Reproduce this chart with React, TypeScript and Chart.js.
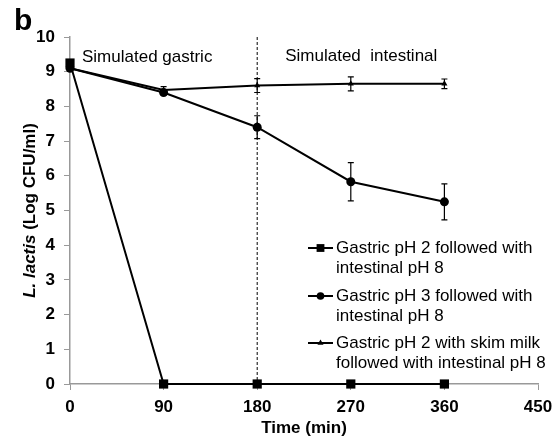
import React, { useEffect, useRef } from "react";
import { Chart, registerables } from "chart.js";
Chart.register(...registerables);

const times = [0, 90, 180, 270, 360];
const ph2Values = [9.25, 0, 0, 0, 0];
const ph2Errors = [0, 0, 0, 0, 0];
const ph3Values = [9.1, 8.4, 7.4, 5.83, 5.25];
const ph3Errors = [0, 0.05, 0.33, 0.55, 0.52];
const milkValues = [9.1, 8.47, 8.6, 8.65, 8.65];
const milkErrors = [0, 0.1, 0.2, 0.2, 0.14];
const legendLabels = [
  ["Gastric pH 2 followed with", "intestinal pH 8"],
  ["Gastric pH 3 followed with", "intestinal pH 8"],
  ["Gastric pH 2 with skim milk", "followed with intestinal pH 8"],
];
const phaseBoundary = 180;
const phaseLabels = ["Simulated gastric", "Simulated  intestinal"];
const panelLetter = "b";
const xTitle = "Time (min)";
const yTitleItalic = "L. lactis";
const yTitleRest = " (Log CFU/ml)";

const FONT = "'Liberation Sans', Arial, sans-serif";
const valueSets = [ph2Values, ph3Values, milkValues];
const errorSets = [ph2Errors, ph3Errors, milkErrors];

const overlayPlugin = {
  id: "overlay",
  beforeDatasetsDraw(chart: any) {
    const { ctx, scales } = chart;
    const x = scales.x.getPixelForValue(phaseBoundary);
    ctx.save();
    ctx.strokeStyle = "#000";
    ctx.lineWidth = 1;
    ctx.setLineDash([3, 2]);
    ctx.beginPath();
    ctx.moveTo(x, scales.y.getPixelForValue(10));
    ctx.lineTo(x, scales.y.getPixelForValue(0));
    ctx.stroke();
    ctx.restore();
  },
  afterDatasetsDraw(chart: any) {
    const { ctx, scales, chartArea } = chart;
    ctx.save();
    ctx.strokeStyle = "#000";
    ctx.lineWidth = 1.2;
    valueSets.forEach((vals, i) => {
      const errs = errorSets[i];
      vals.forEach((v, j) => {
        const e = errs[j];
        if (!e) return;
        const px = scales.x.getPixelForValue(times[j]);
        const top = scales.y.getPixelForValue(v + e);
        const bot = scales.y.getPixelForValue(v - e);
        ctx.beginPath();
        ctx.moveTo(px, top);
        ctx.lineTo(px, bot);
        ctx.moveTo(px - 3, top);
        ctx.lineTo(px + 3, top);
        ctx.moveTo(px - 3, bot);
        ctx.lineTo(px + 3, bot);
        ctx.stroke();
      });
    });
    ctx.restore();

    ctx.save();
    ctx.fillStyle = "#000";
    ctx.font = `bold 30px ${FONT}`;
    ctx.textBaseline = "alphabetic";
    ctx.textAlign = "left";
    ctx.fillText(panelLetter, 14, 30);

    ctx.font = `17px ${FONT}`;
    ctx.textBaseline = "middle";
    ctx.fillText(phaseLabels[0], chartArea.left + 12, 57);
    ctx.fillText(phaseLabels[1], scales.x.getPixelForValue(phaseBoundary) + 28, 56);

    ctx.save();
    const cy = (chartArea.top + chartArea.bottom) / 2;
    ctx.translate(30, cy);
    ctx.rotate(-Math.PI / 2);
    ctx.font = `italic bold 17px ${FONT}`;
    const w1 = ctx.measureText(yTitleItalic).width;
    ctx.font = `bold 17px ${FONT}`;
    const w2 = ctx.measureText(yTitleRest).width;
    const start = -(w1 + w2) / 2;
    ctx.textAlign = "left";
    ctx.font = `italic bold 17px ${FONT}`;
    ctx.fillText(yTitleItalic, start, 0);
    ctx.font = `bold 17px ${FONT}`;
    ctx.fillText(yTitleRest, start + w1, 0);
    ctx.restore();

    const legX = 308;
    const legTops = [248, 296, 343];
    chart.data.datasets.forEach((ds: any, i: number) => {
      const y = legTops[i];
      ctx.strokeStyle = "#000";
      ctx.lineWidth = 2;
      ctx.beginPath();
      ctx.moveTo(legX, y);
      ctx.lineTo(legX + 25, y);
      ctx.stroke();
      ctx.fillStyle = "#000";
      const r = ds.pointRadius;
      const cx = legX + 12.5;
      ctx.beginPath();
      if (ds.pointStyle === "rect") {
        const s = Math.SQRT1_2 * r * 0.85;
        ctx.rect(cx - s, y - s, 2 * s, 2 * s);
      } else if (ds.pointStyle === "triangle") {
        for (let k = 0; k < 3; k++) {
          const a = -Math.PI / 2 + (k * 2 * Math.PI) / 3;
          const px = cx + Math.cos(a) * r;
          const py = y + Math.sin(a) * r;
          if (k === 0) ctx.moveTo(px, py);
          else ctx.lineTo(px, py);
        }
        ctx.closePath();
      } else {
        ctx.arc(cx, y, r * 0.85, 0, Math.PI * 2);
      }
      ctx.fill();
      ctx.font = `17px ${FONT}`;
      ctx.textAlign = "left";
      ctx.textBaseline = "middle";
      legendLabels[i].forEach((line, k) => {
        ctx.fillText(line, legX + 28, y + k * 20);
      });
    });
    ctx.restore();
  },
};

export default function App() {
  const canvasRef = useRef<HTMLCanvasElement | null>(null);
  useEffect(() => {
    document.body.style.margin = "0";
    const canvas = canvasRef.current!;
    const mk = (vals: number[], style: string, radius: number) => ({
      data: vals.map((v, j) => ({ x: times[j], y: v })),
      borderColor: "#000",
      backgroundColor: "#000",
      borderWidth: 2,
      pointStyle: style,
      pointRadius: radius,
      pointBorderWidth: 0,
      pointBackgroundColor: "#000",
      tension: 0,
      clip: false as any,
    });
    const chart = new Chart(canvas, {
      type: "line",
      data: {
        datasets: [
          mk(ph2Values, "rect", 6.5),
          mk(ph3Values, "circle", 4.5),
          mk(milkValues, "triangle", 3.5),
        ] as any,
      },
      options: {
        responsive: false,
        animation: false,
        layout: { padding: { left: 0, right: 18, top: 37, bottom: 0 } },
        plugins: { legend: { display: false }, tooltip: { enabled: false } },
        scales: {
          x: {
            type: "linear",
            min: 0,
            max: 450,
            afterFit: (s: any) => {
              s.height = 54;
              s.paddingRight = 0;
              s.paddingLeft = 0;
            },
            afterBuildTicks: (s: any) => {
              s.ticks = [0, 90, 180, 270, 360, 450].map((v) => ({ value: v }));
            },
            ticks: {
              font: { family: FONT, size: 17, weight: "bold" },
              color: "#000",
              padding: 7,
              maxRotation: 0,
            },
            grid: { drawOnChartArea: false, drawTicks: true, tickLength: 6, color: "#999", lineWidth: 1 },
            border: { color: "#999", width: 1.5 },
            title: {
              display: true,
              text: xTitle,
              font: { family: FONT, size: 17, weight: "bold" },
              color: "#000",
              padding: { top: 0, bottom: -1 },
            },
          },
          y: {
            type: "linear",
            min: 0,
            max: 10,
            afterFit: (s: any) => {
              s.width = 70;
            },
            ticks: {
              stepSize: 1,
              font: { family: FONT, size: 17, weight: "bold" },
              color: "#000",
              padding: 9,
            },
            grid: { drawOnChartArea: false, drawTicks: true, tickLength: 6, color: "#999", lineWidth: 1 },
            border: { color: "#999", width: 1.5 },
          },
        },
      },
      plugins: [overlayPlugin],
    });
    return () => chart.destroy();
  }, []);
  return (
    <div style={{ width: 556, height: 438, background: "#fff" }}>
      <canvas ref={canvasRef} width={556} height={438} />
    </div>
  );
}
